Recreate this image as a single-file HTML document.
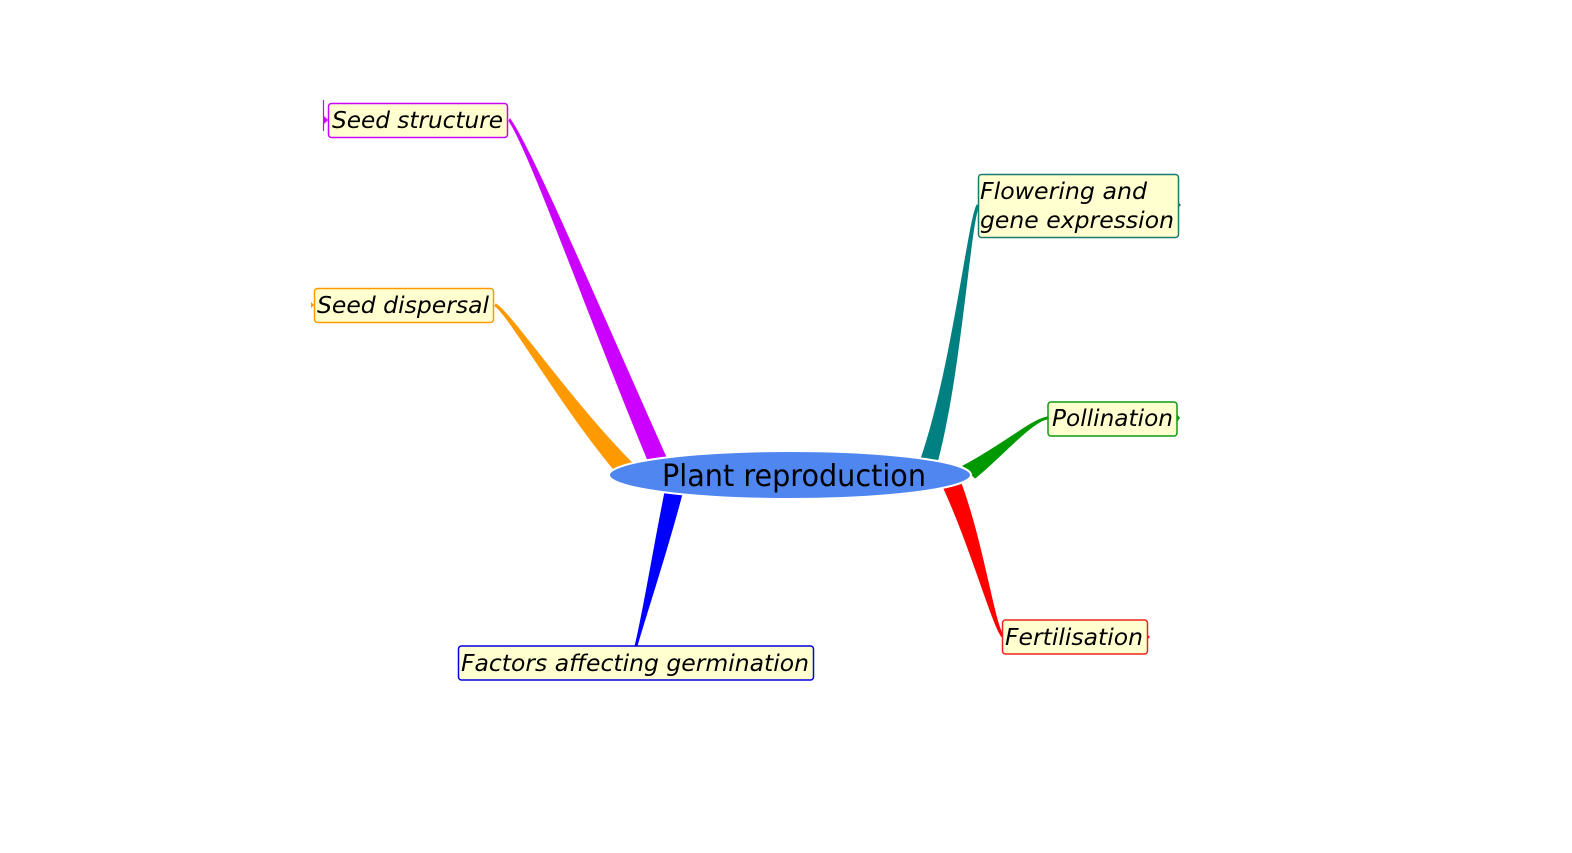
<!DOCTYPE html>
<html>
<head>
<meta charset="utf-8">
<style>
  html, body { margin: 0; padding: 0; background: #ffffff; }
  body { width: 1572px; height: 853px; overflow: hidden; }
  svg { display: block; }
  .lbl { font-family: "DejaVu Sans", "Liberation Sans", sans-serif; font-style: italic; font-size: 23.5px; fill: #000; }
  .ctr { font-family: "DejaVu Sans", "Liberation Sans", sans-serif; font-size: 30px; fill: #000; }
</style>
</head>
<body>
<svg width="1572" height="853" viewBox="0 0 1572 853" xmlns="http://www.w3.org/2000/svg">
  <rect x="0" y="0" width="1572" height="853" fill="#ffffff"/>

  <!-- Branches (tapered) -->
  <path d="M 509,121 C 530,151 594,332 652,470 L 670,466 C 608,328 532,149 510,119 Z" fill="#cc00ff" stroke="#cc00ff" stroke-width="1"/>
  <path d="M 495,306 C 510,316 562,409 621,478 L 635,466 C 570,401 512,314 496,304 Z" fill="#ff9900" stroke="#ff9900" stroke-width="1"/>
  <path d="M 977,205 C 968,220 951,380 917,470 L 935,470 C 961,380 970,220 979,206 Z" fill="#008080" stroke="#008080" stroke-width="1"/>
  <path d="M 1047,417 C 1031,420 1003,445 963,466 L 975,478 C 999,459 1031,422 1047,419 Z" fill="#009900" stroke="#009900" stroke-width="1"/>
  <path d="M 1002,637 C 992,625 969,540 939,478 L 959,478 C 983,540 994,625 1004,637 Z" fill="#ff0000" stroke="#ff0000" stroke-width="1"/>
  <path d="M 635,646 C 642,620 655,540 667,482 L 685,482 C 671,540 644,620 637,646 Z" fill="#0000ff" stroke="#0000ff" stroke-width="1"/>

  <!-- Central ellipse -->
  <ellipse cx="790" cy="475" rx="181" ry="24" fill="#4f86f0" stroke="#ffffff" stroke-width="2"/>
  <text class="ctr" x="662" y="486" textLength="264" lengthAdjust="spacingAndGlyphs">Plant reproduction</text>

  <!-- Seed structure -->
  <line x1="323.5" y1="100" x2="323.5" y2="131" stroke="#cc00ff" stroke-width="1.2"/>
  <path d="M 323,115 L 328,120 L 323,125 Z" fill="#cc00ff"/>
  <rect x="328.5" y="103.5" width="179" height="34" rx="3" ry="3" fill="#ffffd0" stroke="#cc00ff" stroke-width="1.5"/>
  <text class="lbl" x="332" y="128" textLength="171" lengthAdjust="spacingAndGlyphs">Seed structure</text>

  <!-- Seed dispersal -->
  <path d="M 311,302 L 314,305 L 311,308 Z" fill="#ff9900"/>
  <rect x="314.5" y="288.5" width="179" height="34" rx="3" ry="3" fill="#ffffd0" stroke="#ff9900" stroke-width="1.5"/>
  <text class="lbl" x="317" y="313" textLength="172" lengthAdjust="spacingAndGlyphs">Seed dispersal</text>

  <!-- Flowering and gene expression -->
  <rect x="978.5" y="174.5" width="200" height="63" rx="3" ry="3" fill="#ffffd0" stroke="#1a7a6e" stroke-width="1.5"/>
  <path d="M 1178,202 L 1181,205 L 1178,208 Z" fill="#1a7a6e"/>
  <text class="lbl" x="980" y="199" textLength="167" lengthAdjust="spacingAndGlyphs">Flowering and</text>
  <text class="lbl" x="980" y="228" textLength="194" lengthAdjust="spacingAndGlyphs">gene expression</text>

  <!-- Pollination -->
  <rect x="1048" y="402" width="129" height="34" rx="3" ry="3" fill="#ffffd0" stroke="#119911" stroke-width="1.5"/>
  <path d="M 1177,414 L 1180,418 L 1177,422 Z" fill="#119911"/>
  <text class="lbl" x="1052" y="426" textLength="121" lengthAdjust="spacingAndGlyphs">Pollination</text>

  <!-- Fertilisation -->
  <rect x="1002.5" y="620" width="145" height="34" rx="3" ry="3" fill="#ffffd0" stroke="#ee2222" stroke-width="1.5"/>
  <path d="M 1147,634 L 1150,637 L 1147,640 Z" fill="#ee2222"/>
  <text class="lbl" x="1005" y="645" textLength="138" lengthAdjust="spacingAndGlyphs">Fertilisation</text>

  <!-- Factors affecting germination -->
  <rect x="458.5" y="646" width="355" height="34" rx="3" ry="3" fill="#ffffd0" stroke="#0000dd" stroke-width="1.5"/>
  <text class="lbl" x="461" y="671" textLength="348" lengthAdjust="spacingAndGlyphs">Factors affecting germination</text>
</svg>
</body>
</html>
